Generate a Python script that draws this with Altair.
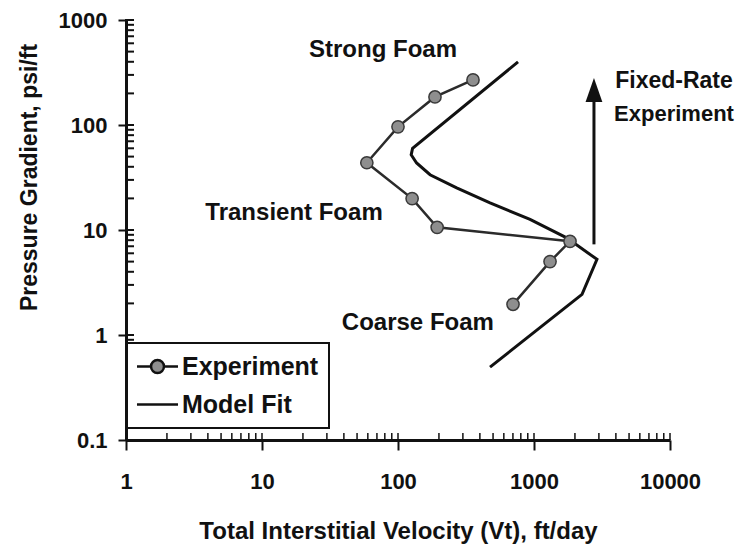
import altair as alt
import pandas as pd

# ---- data ----
exp_vt = [356, 187, 100, 59, 127, 194, 1840, 1312, 701]
exp_pg = [269, 185, 96, 43.7, 19.9, 10.6, 7.8, 5.0, 1.96]

model_vt = [763, 128, 125, 137, 172, 270, 475, 935, 1740, 2904, 2255, 475]
model_pg = [399, 60, 52, 43.5, 33.6, 25.2, 18.1, 12.6, 8.43, 5.25, 2.44, 0.494]

ann_text = ["Strong Foam", "Transient Foam", "Coarse Foam", "Fixed-Rate", "Experiment"]
ann_vt = [77.6, 17.2, 140, 10700, 10700]
ann_pg = [519, 14.4, 1.29, 263, 128]
ann_size = [24, 24, 24, 23, 22]

arrow_vt = [2760]
arrow_pg_start = [7.3]
arrow_pg_end = [216]

x_major = [1, 10, 100, 1000, 10000]
y_major = [0.1, 1, 10, 100, 1000]
x_ticks = sorted(set([round(m * d, 6) for d in [1, 10, 100, 1000] for m in range(1, 10)] + x_major))
y_ticks = sorted(set([round(m * d, 6) for d in [0.1, 1, 10, 100] for m in range(1, 10)] + y_major))

FONT = "Liberation Sans"
INK = "#111111"
H = 420
W = 544

exp_df = pd.DataFrame({"vt": exp_vt, "pg": exp_pg, "i": range(len(exp_vt)), "series": "Experiment"})
mod_df = pd.DataFrame({"vt": model_vt, "pg": model_pg, "i": range(len(model_vt)), "series": "Model Fit"})
all_df = pd.concat([exp_df, mod_df], ignore_index=True)
ann_df = pd.DataFrame({"vt": ann_vt, "pg": ann_pg, "text": ann_text, "size": ann_size})
arrow_df = pd.DataFrame({"vt": arrow_vt, "pg": arrow_pg_start, "pg2": arrow_pg_end})
head_df = pd.DataFrame({"vt": arrow_vt, "pg": arrow_pg_end})
xtick_df = pd.DataFrame({"vt": x_ticks})
ytick_df = pd.DataFrame({"pg": y_ticks})

xaxis = alt.Axis(
    values=x_major,
    title="Total Interstitial Velocity (Vt), ft/day",
    labelExpr="'' + datum.value",
    labelFont=FONT, labelFontSize=22, labelFontWeight="bold", labelColor=INK,
    labelPadding=21, labelFlush=False, labelOverlap=False,
    tickColor=INK, tickWidth=2, tickSize=10,
    domainColor=INK, domainWidth=3, grid=False,
    titleFont=FONT, titleFontSize=24, titleFontWeight="bold", titleColor=INK,
    titleY=98, titleBaseline="alphabetic",
)
yaxis = alt.Axis(
    values=y_major,
    title="Pressure Gradient, psi/ft",
    labelExpr="'' + datum.value",
    labelFont=FONT, labelFontSize=22, labelFontWeight="bold", labelColor=INK,
    labelPadding=11, labelFlush=False, labelOverlap=False,
    tickColor=INK, tickWidth=2, tickSize=8,
    domainColor=INK, domainWidth=3, grid=False,
    titleFont=FONT, titleFontSize=23, titleFontWeight="bold", titleColor=INK,
    titleX=-90, titleY=157, titleBaseline="alphabetic", titleAngle=270,
)

xs = alt.Scale(type="log", domain=[1, 10000], nice=False)
ys = alt.Scale(type="log", domain=[0.1, 1000], nice=False)
X = alt.X("vt:Q", scale=xs, axis=xaxis)
Y = alt.Y("pg:Q", scale=ys, axis=yaxis)

# inward minor ticks along both axes
xminor = alt.Chart(xtick_df).mark_rule(color=INK, strokeWidth=1.5).encode(
    x=X, y=alt.value(H), y2=alt.value(H - 7)
)
yminor = alt.Chart(ytick_df).mark_tick(
    orient="horizontal", color=INK, size=9, thickness=2, opacity=1
).encode(y=Y, x=alt.value(3.5))

model_line = alt.Chart(mod_df).mark_line(color=INK, strokeWidth=3).encode(x=X, y=Y, order="i:Q")
exp_line = alt.Chart(exp_df).mark_line(color="#2b2b2b", strokeWidth=2.5).encode(x=X, y=Y, order="i:Q")
exp_pts = alt.Chart(exp_df).mark_point(
    filled=True, fill="#8e8e8e", stroke="#3a3a3a", strokeWidth=1.5, size=150, opacity=1
).encode(x=X, y=Y)

EXP_PATH = "M-1.71,0H-0.54M0.54,0H1.71M0.54,0A0.54,0.54,0,1,1,-0.54,0A0.54,0.54,0,1,1,0.54,0Z"
FIT_PATH = "M-1.71,0H1.71"

legend_layer = alt.Chart(all_df).mark_point(
    filled=True, fill="#8e8e8e", stroke=INK, strokeWidth=2.5, opacity=0
).encode(
    x=X, y=Y,
    shape=alt.Shape(
        "series:N",
        scale=alt.Scale(domain=["Experiment", "Model Fit"], range=[EXP_PATH, FIT_PATH]),
        legend=alt.Legend(
            title=None, orient="none", legendX=1, legendY=323,
            fillColor="white", strokeColor=INK, padding=10,
            symbolSize=576, symbolStrokeWidth=2.5, symbolOpacity=1, symbolOffset=7,
            labelFont=FONT, labelFontSize=25, labelFontWeight="bold", labelColor=INK,
            labelOffset=11, rowPadding=11,
        ),
    ),
)

arrow = alt.Chart(arrow_df).mark_rule(color=INK, strokeWidth=3).encode(x=X, y=Y, y2="pg2:Q")
head = alt.Chart(head_df).mark_point(
    shape="M0,-1L0.7,1L-0.7,1Z", filled=True, fill=INK, size=576, opacity=1
).encode(x=X, y=Y)

texts = alt.Chart(ann_df).mark_text(
    font=FONT, fontWeight="bold", color=INK, align="center", baseline="middle"
).encode(x=X, y=Y, text="text:N", size=alt.Size("size:Q", scale=None))

chart = alt.layer(
    xminor, yminor, model_line, exp_line, exp_pts, arrow, head, texts, legend_layer
).properties(
    width=W, height=H,
    autosize="none",
    padding={"left": 118, "top": 12, "right": 66, "bottom": 104},
).configure_view(stroke=None).configure_legend(strokeWidth=2)

chart.save("out.html", embed_options={"renderer": "svg", "actions": False})
